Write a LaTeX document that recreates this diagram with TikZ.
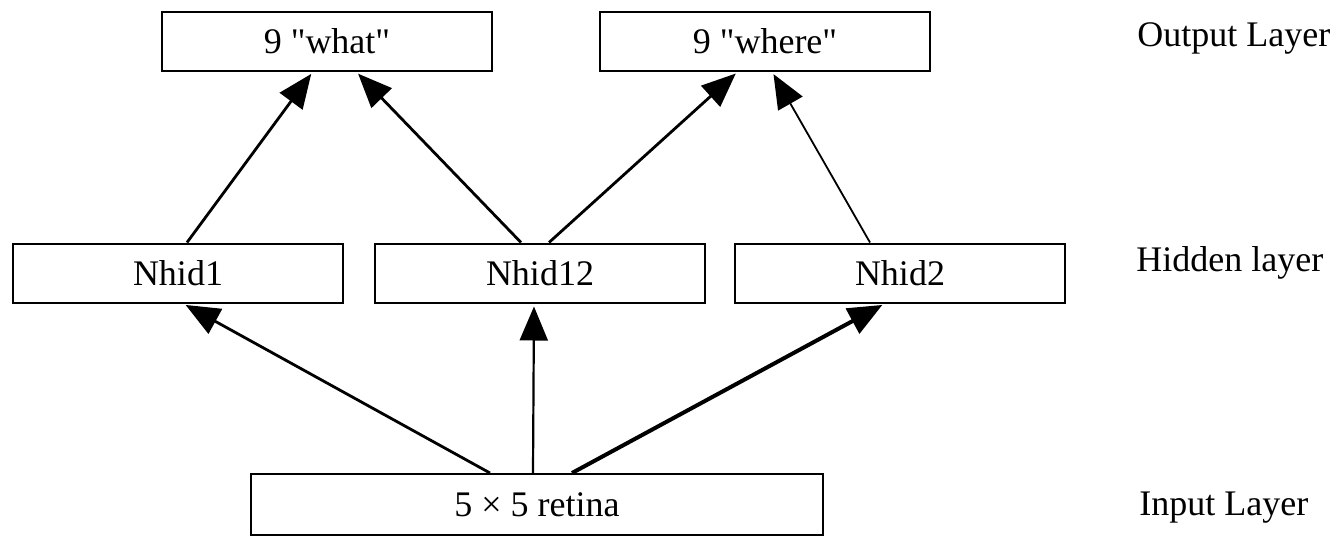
\documentclass[tikz,border=0pt]{standalone}
\usepackage{fontspec}
\setmainfont{Liberation Serif}[Ligatures=TeXOff]
\usetikzlibrary{positioning,arrows.meta}

\begin{document}
\begin{tikzpicture}[x=0.5pt, y=-0.5pt]
        \tikzstyle{every node}=[font=\fontsize{18}{22}\selectfont]
        \tikzstyle{unit}=[draw, line width=1pt, minimum width=165pt, minimum height=29.5pt, inner sep=0pt]
        \tikzstyle{conn}=[-{Triangle[length=17pt, width=14pt]}, line width=1.4pt, shorten >=1.5pt]
        \useasboundingbox (0,0) rectangle (1340,536);
        
        \node (what)   [unit] at (327,41) {9 "what"};
        \node (where)  [unit] at (765,41) {9 "where"};
        
        \node (nhid1)  [unit] at (178,273) {Nhid1};
        \node (nhid12) [unit, right=15pt of nhid1] {Nhid12};
        \node (nhid2)  [unit, right=14pt of nhid12] {Nhid2};
        
        \node (retina) [unit, minimum width=286pt, minimum height=30.5pt] at (537,504.5) {5 × 5 retina};
        
        \node (out lbl) [anchor=west, inner sep=0pt] at (1137,38) {Output Layer};
        \node (hid lbl) [anchor=west, inner sep=0pt] at (1136,263) {Hidden layer};
        \node (in lbl)  [anchor=west, inner sep=0pt] at (1139,508) {Input Layer};
        
        \draw[conn] ([xshift=4.5pt]nhid1.north) -- ([xshift=-7pt]what.south);
        \draw[conn] ([xshift=-9.5pt]nhid12.north) -- ([xshift=14.5pt]what.south);
        \draw[conn] ([xshift=4.5pt]nhid12.north) -- ([xshift=-13.5pt]where.south);
        \draw[conn, line width=0.9pt] ([xshift=-15pt]nhid2.north) -- ([xshift=3.5pt]where.south);
        
        \draw[conn] ([xshift=-23.5pt]retina.north) -- ([xshift=2.5pt]nhid1.south);
        \draw[conn, line width=1.1pt] ([xshift=-2pt]retina.north) -- ([xshift=-3pt]nhid12.south);
        \draw[conn, line width=2pt] ([xshift=17.5pt]retina.north) -- ([xshift=-7.5pt]nhid2.south);
        
    \end{tikzpicture}
\end{document}
